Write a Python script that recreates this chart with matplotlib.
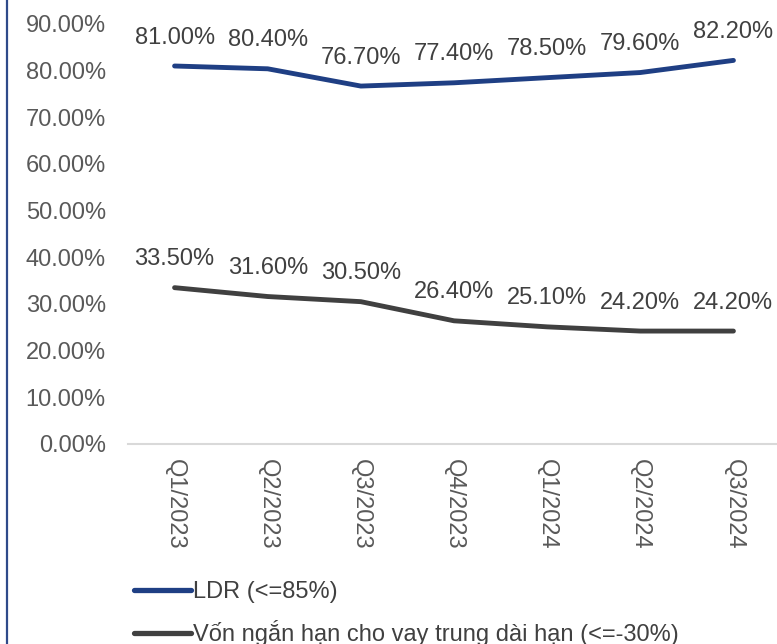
import matplotlib
matplotlib.use("Agg")
import matplotlib.pyplot as plt
from matplotlib.lines import Line2D
from matplotlib.ticker import FuncFormatter

plt.rcParams['font.family'] = ['Liberation Sans', 'DejaVu Sans']

quarters = ["Q1/2023", "Q2/2023", "Q3/2023", "Q4/2023", "Q1/2024", "Q2/2024", "Q3/2024"]
ldr = [81.0, 80.4, 76.7, 77.4, 78.5, 79.6, 82.2]
short_term = [33.5, 31.6, 30.5, 26.4, 25.1, 24.2, 24.2]
series_names = ["LDR (<=85%)", "Vốn ngắn hạn cho vay trung dài hạn (<=-30%)"]
y_ticks = [0, 10, 20, 30, 40, 50, 60, 70, 80, 90]

W, H = 777, 644
fig = plt.figure(figsize=(W / 100, H / 100), dpi=100)
ax = fig.add_axes([128 / W, 1 - 444 / H, 652 / W, 420 / H])

blue = "#1F3F84"
gray = "#404040"
fs = 17

x = list(range(len(quarters)))
l1, = ax.plot(x, ldr, color=blue, lw=3.5, solid_capstyle='round', solid_joinstyle='round')
l2, = ax.plot(x, short_term, color=gray, lw=3.5, solid_capstyle='round', solid_joinstyle='round')

for xi, v in zip(x, ldr):
    ax.annotate(f"{v:.2f}%", (xi, v), xytext=(0, 20.5), textcoords='offset points',
                ha='center', va='center', fontsize=fs, color=gray)
for xi, v in zip(x, short_term):
    ax.annotate(f"{v:.2f}%", (xi, v), xytext=(0, 20.5), textcoords='offset points',
                ha='center', va='center', fontsize=fs, color=gray)

ax.set_xlim(-0.5, len(quarters) - 0.5)
ax.set_ylim(0, 90)
ax.set_yticks(y_ticks)
ax.yaxis.set_major_formatter(FuncFormatter(lambda v, p: f"{v:.2f}%"))
ax.set_xticks(x)
ax.set_xticklabels(quarters, rotation=-90, va='top', ha='center')
ax.tick_params(axis='y', length=0, pad=16, labelsize=fs, labelcolor="#595959")
ax.tick_params(axis='x', length=0, pad=11, labelsize=fs, labelcolor="#595959")
for s in ['top', 'right', 'left']:
    ax.spines[s].set_visible(False)
ax.spines['bottom'].set_color("#D9D9D9")
ax.spines['bottom'].set_linewidth(1.5)
ax.set_facecolor('none')

# left border line
fig.add_artist(Line2D([7 / W, 7 / W], [0, 1], transform=fig.transFigure, color="#2F4A8A", lw=1.6))

h1 = Line2D([0], [0], color=blue, lw=3.8, solid_capstyle='round')
h2 = Line2D([0], [0], color=gray, lw=3.8, solid_capstyle='round')
fig.legend([h1, h2], series_names, loc='upper left',
           bbox_to_anchor=(134 / W, 1 - 581 / H), frameon=False, fontsize=fs,
           handlelength=2.4, handletextpad=0.08, labelspacing=0.72, borderpad=0,
           borderaxespad=0, labelcolor="#404040")

fig.savefig("out.png", dpi=100)
